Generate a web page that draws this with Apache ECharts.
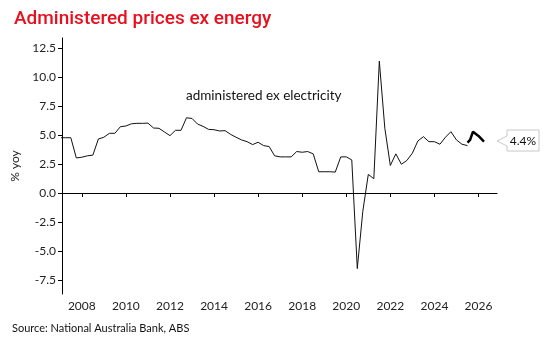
<!DOCTYPE html>
<html>
<head>
<meta charset="utf-8">
<script src="https://cdn.jsdelivr.net/npm/echarts@6/dist/echarts.min.js"></script>
<style>
  html, body { margin: 0; padding: 0; background: #fff; }
  #chart { width: 550px; height: 350px; }
</style>
</head>
<body>
<div id="chart"></div>
<script>
// quarterly yoy %, Dec 2006 .. Jun 2025
const firstQuarter = [2006, 4];
const actual = [
  4.76,
  4.76, 4.76, 3.02, 3.08,
  3.20, 3.26, 4.65, 4.80,
  5.14, 5.14, 5.71, 5.77,
  5.96, 6.00, 6.00, 6.02,
  5.60, 5.57, 5.25, 4.94,
  5.40, 5.40, 6.48, 6.42,
  5.94, 5.74, 5.48, 5.45,
  5.34, 5.37, 5.05, 4.80,
  4.57, 4.42, 4.17, 4.37,
  4.08, 4.00, 3.20, 3.11,
  3.11, 3.11, 3.57, 3.51,
  3.57, 3.37, 1.83, 1.83,
  1.83, 1.80, 3.11, 3.11,
  2.85, -6.51, -1.58, 1.60,
  1.23, 11.36, 5.57, 2.37,
  3.37, 2.48, 2.80, 3.43,
  4.48, 4.85, 4.42, 4.42,
  4.20, 4.80, 5.28, 4.57,
  4.20, 4.08
];
// forecast (decimal year, value)
const forecastDates = [2025.5, 2025.62, 2025.75, 2026.0, 2026.25];
const forecast = [4.34, 4.57, 5.28, 4.91, 4.42];

const xTicks = [2008, 2010, 2012, 2014, 2016, 2018, 2020, 2022, 2024, 2026];
const yTicks = [-7.5, -5, -2.5, 0, 2.5, 5, 7.5, 10, 12.5];
const lastLabel = '4.4%';

function quarterEnd(i) {
  let q = firstQuarter[1] - 1 + i;
  let y = firstQuarter[0] + Math.floor(q / 4);
  return y + (q % 4 + 1) * 0.25;
}
const actualData = actual.map((v, i) => [quarterEnd(i), v]);
const forecastData = forecast.map((v, i) => [forecastDates[i], v]);

const font = 'Lato, "Noto Sans", sans-serif';
const chart = echarts.init(document.getElementById('chart'));
chart.setOption({
  animation: false,
  title: {
    text: 'Administered prices ex energy',
    left: 9, top: 5,
    textStyle: { color: '#e8101e', fontSize: 19, fontWeight: 500, fontFamily: 'Roboto, sans-serif' }
  },
  grid: { left: 62, right: 53, top: 38, bottom: 56 },
  xAxis: {
    type: 'value',
    min: 2007.1, max: 2026.84,
    axisLine: { show: true, lineStyle: { color: '#000', width: 1 } },
    axisTick: { show: true, length: 4, customValues: xTicks, lineStyle: { color: '#000' } },
    axisLabel: { customValues: xTicks, color: '#222', fontSize: 12, fontFamily: font, margin: 6,
      formatter: v => String(v) },
    splitLine: { show: false }
  },
  yAxis: {
    type: 'value',
    min: -8.7, max: 13.35,
    name: '% yoy',
    nameLocation: 'middle',
    nameGap: 40,
    nameTextStyle: { color: '#222', fontSize: 12, fontFamily: font },
    axisLine: { show: true, lineStyle: { color: '#000', width: 1 } },
    axisTick: { show: true, length: 4, customValues: yTicks, lineStyle: { color: '#000' } },
    axisLabel: { customValues: yTicks, color: '#222', fontSize: 12, fontFamily: font, margin: 6,
      formatter: v => v.toFixed(1) },
    splitLine: { show: false }
  },
  series: [
    {
      name: 'administered ex electricity',
      type: 'line', data: actualData, symbol: 'none',
      lineStyle: { color: '#111', width: 1 }
    },
    {
      name: 'forecast',
      type: 'line', data: forecastData, symbol: 'none',
      lineStyle: { color: '#000', width: 2.5 }
    }
  ],
  graphic: [
    {
      type: 'text', left: 186, top: 89,
      style: { text: 'administered ex electricity', fill: '#111', fontSize: 13.5, fontFamily: font }
    },
    {
      type: 'polygon',
      shape: { points: [[497, 141], [507, 136], [507, 130], [539, 130], [539, 151], [507, 151], [507, 146]] },
      style: { fill: '#fff', stroke: '#c8c8c8', lineWidth: 1 }
    },
    {
      type: 'text', x: 523, y: 141,
      style: { text: lastLabel, fill: '#111', fontSize: 12, fontFamily: font, align: 'center', verticalAlign: 'middle' }
    },
    {
      type: 'text', left: 12, top: 323,
      style: { text: 'Source: National Australia Bank, ABS', fill: '#111', fontSize: 11, fontFamily: font }
    }
  ]
});
</script>
</body>
</html>
